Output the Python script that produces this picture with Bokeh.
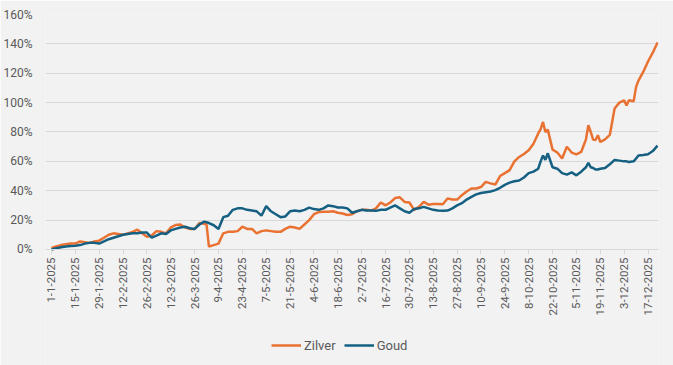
import math
from bokeh.plotting import figure
from bokeh.models import Range1d, FixedTicker, PrintfTickFormatter, Legend, LegendItem, ColumnDataSource
from bokeh.embed import file_html
from bokeh.resources import INLINE

# trading-day index (0 = 1-1-2025)
day_index = [0, 2, 4, 6, 8, 10, 12, 14, 16, 18, 20, 22, 24, 26, 28, 30, 32, 34, 36, 38, 40,
             42, 44, 46, 48, 50, 52, 54, 56, 58, 60, 62, 64, 65, 66, 68, 70, 72, 74, 76, 78, 80,
             82, 84, 86, 88, 90, 92, 94, 96, 98, 100, 102, 104, 106, 108, 110, 112, 114, 116, 118, 120,
             122, 124, 126, 128, 130, 132, 134, 136, 138, 140, 142, 144, 146, 148, 150, 152, 154, 156, 158, 160,
             162, 164, 166, 168, 170, 172, 174, 176, 178, 180, 182, 184, 186, 188, 190, 192, 194, 196, 198, 200,
             202, 204, 205, 206, 207, 208, 210, 212, 214, 216, 218, 220, 222, 224, 225, 226, 227, 228, 229, 230,
             232, 234, 236, 238, 240, 241, 242, 244, 245, 246, 248, 250, 252, 254]

goud = [0, 0.8, 1.5, 2, 2.3, 2.5, 3, 4, 4.5, 4.5, 4, 5.5, 7, 8, 9, 10, 10.5, 11, 11, 11.5, 11.5,
        8, 9.5, 11, 10.5, 13, 14, 15, 15.5, 14.5, 14, 17, 19, 18.5, 18, 16.5, 14, 22, 23, 27, 28, 28,
        27, 26.5, 26, 23, 29.5, 26, 24, 22, 22.5, 26, 26.5, 26, 27, 28.5, 27.5, 27, 28, 30, 29.5, 28.6,
        28.6, 28, 25, 26, 27, 26.5, 26.5, 26.3, 27, 27, 28.5, 30, 28, 26, 25, 27.5, 28, 29, 28, 27,
        26.5, 26.3, 26.5, 28, 30, 31.5, 34, 35.8, 37.5, 38.5, 39, 39.5, 40.4, 42, 44, 45.5, 46.5, 47, 49, 52,
        53, 55, 60, 64, 61, 65.5, 56, 55, 52, 51, 52.5, 50.5, 53, 56, 59, 56, 55.5, 54.4, 54.5, 55,
        55.5, 58, 61, 60.5, 60, 60, 59.6, 60, 62, 64, 64.3, 64.8, 67, 70.7]

zilver = [1, 2, 3, 3.5, 4, 4, 5.5, 5, 4.5, 5.5, 6, 8, 10, 11, 10.5, 10, 11, 12, 13.5, 11, 8.6,
          9.5, 12.5, 12, 11, 15, 16.6, 17, 15, 14, 14, 18, 17.5, 17, 2, 3, 4, 11, 12, 12, 12.5, 15.5,
          14, 14, 11, 12.5, 13, 12.5, 12, 12, 14, 15.5, 15, 14, 17, 20, 24, 25.5, 25.7, 25.7, 26, 25,
          24.5, 23.5, 24, 26, 27, 27, 26.5, 28, 32, 30, 32, 35, 35.5, 32.4, 32, 27, 29, 32.4, 30.5, 31,
          31, 30.8, 34.7, 34, 34, 37, 39.5, 41.5, 41.5, 42.5, 46, 45, 44.2, 50, 52, 54, 60, 63, 65, 67.6,
          72, 79, 82, 86.8, 80, 81.6, 68, 66, 62, 70, 66, 64.8, 66.4, 75, 84.6, 80, 74.8, 74.5, 77.8, 73.2,
          75, 78, 96, 100, 101.6, 98, 101.6, 101, 110.7, 115, 120.9, 128, 134, 141]

tick_days = list(range(0, 251, 10))
tick_labels = ["1-1-2025", "15-1-2025", "29-1-2025", "12-2-2025", "26-2-2025", "12-3-2025",
               "26-3-2025", "9-4-2025", "23-4-2025", "7-5-2025", "21-5-2025", "4-6-2025",
               "18-6-2025", "2-7-2025", "16-7-2025", "30-7-2025", "13-8-2025", "27-8-2025",
               "10-9-2025", "24-9-2025", "8-10-2025", "22-10-2025", "5-11-2025", "19-11-2025",
               "3-12-2025", "17-12-2025"]
y_ticks = [0, 20, 40, 60, 80, 100, 120, 140, 160]

assert len(day_index) == len(goud) == len(zilver)

FONT = "Roboto"
TXT = "#595959"
BG = "#F2F2F2"

src = ColumnDataSource(dict(x=day_index, g=goud, z=zilver))

# the frame reaches the bottom of the page; the x axis is pinned at 0 %
p = figure(width=673, height=365, output_backend="svg", toolbar_location=None,
           x_range=Range1d(-2.5, 254.4), y_range=Range1d(-79, 160),
           min_border_left=44, min_border_right=15, min_border_top=14, min_border_bottom=0)
p.background_fill_color = BG
p.border_fill_color = BG
p.outline_line_color = None

rz = p.line("x", "z", source=src, line_color="#E97132", line_width=2.5)
rg = p.line("x", "g", source=src, line_color="#156082", line_width=2.5)

p.xgrid.grid_line_color = None
p.ygrid.grid_line_color = "#D9D9D9"
p.ygrid.grid_line_width = 1
p.ygrid.ticker = FixedTicker(ticks=y_ticks)

p.yaxis.ticker = FixedTicker(ticks=y_ticks)
p.yaxis.formatter = PrintfTickFormatter(format="%d%%")
p.yaxis.axis_line_color = None
p.yaxis.major_tick_line_color = None
p.yaxis.minor_tick_line_color = None
p.yaxis.major_label_text_font = FONT
p.yaxis.major_label_text_font_size = "12px"
p.yaxis.major_label_text_color = TXT
p.yaxis.major_label_standoff = 7

p.xaxis.fixed_location = 0
p.xaxis.ticker = FixedTicker(ticks=tick_days)
p.xaxis.major_label_overrides = {d: l for d, l in zip(tick_days, tick_labels)}
p.xaxis.major_label_orientation = math.pi / 2
p.xaxis.axis_line_color = "#D9D9D9"
p.xaxis.major_tick_line_color = "#D9D9D9"
p.xaxis.major_tick_out = 5
p.xaxis.major_tick_in = 0
p.xaxis.minor_tick_line_color = None
p.xaxis.major_label_text_font = FONT
p.xaxis.major_label_text_font_size = "11.5px"
p.xaxis.major_label_text_color = TXT
p.xaxis.major_label_standoff = 3

legend = Legend(items=[LegendItem(label="Zilver", renderers=[rz]),
                       LegendItem(label="Goud", renderers=[rg])],
                orientation="horizontal", location=(224, 10))
legend.background_fill_alpha = 0
legend.border_line_alpha = 0
legend.label_text_font = FONT
legend.label_text_font_size = "13px"
legend.label_text_color = TXT
legend.glyph_width = 30
legend.glyph_height = 16
legend.spacing = 8
legend.label_standoff = 3
legend.margin = 0
legend.padding = 2
p.add_layout(legend, "center")

open("out.html", "w").write(file_html(p, INLINE))
